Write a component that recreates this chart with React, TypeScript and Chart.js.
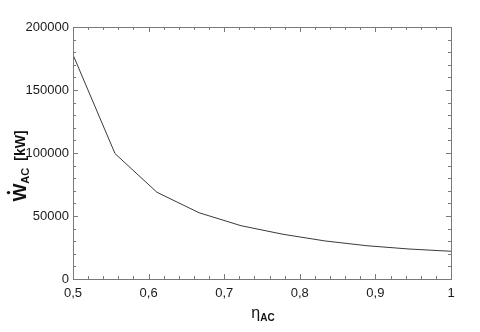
import React, { useEffect, useRef } from "react";
import { Chart, registerables } from "chart.js";

Chart.register(...registerables);

const etaValues = [0.5, 0.5556, 0.6111, 0.6667, 0.7222, 0.7778, 0.8333, 0.8889, 0.9444, 1.0];
const powerValues = [178000, 99500, 68800, 52600, 42300, 35500, 30200, 26400, 23800, 22000];
const xTickValues = [0.5, 0.6, 0.7, 0.8, 0.9, 1.0];
const yTickValues = [0, 50000, 100000, 150000, 200000];
const xMinorStep = 0.02;
const yMinorStep = 10000;

const FONT = "'Liberation Sans', Arial, Helvetica, sans-serif";

const frameAndLabels = {
  id: "frameAndLabels",
  afterDraw(chart: any) {
    const { ctx, chartArea } = chart;
    const { left, right, top, bottom } = chartArea;
    const xs = chart.scales.x;
    const ys = chart.scales.y;
    ctx.save();
    ctx.strokeStyle = "#7a7a7a";
    ctx.lineWidth = 1;
    ctx.strokeRect(Math.round(left) + 0.5, Math.round(top) + 0.5, Math.round(right - left), Math.round(bottom - top));
    ctx.beginPath();
    for (let i = 0; i <= Math.round((xs.max - xs.min) / xMinorStep); i++) {
      const v = xs.min + i * xMinorStep;
      const px = Math.round(xs.getPixelForValue(v)) + 0.5;
      const major = i % 5 === 0;
      const len = major ? 5 : 3;
      ctx.moveTo(px, bottom);
      ctx.lineTo(px, bottom - len);
      ctx.moveTo(px, top);
      ctx.lineTo(px, top + len);
    }
    for (let i = 0; i <= Math.round((ys.max - ys.min) / yMinorStep); i++) {
      const v = ys.min + i * yMinorStep;
      const py = Math.round(ys.getPixelForValue(v)) + 0.5;
      const major = i % 5 === 0;
      const len = major ? 5 : 3;
      ctx.moveTo(left, py);
      ctx.lineTo(left + len, py);
      ctx.moveTo(right, py);
      ctx.lineTo(right - len, py);
    }
    ctx.stroke();

    // x-axis title: eta_AC
    ctx.fillStyle = "#111";
    ctx.textBaseline = "alphabetic";
    ctx.textAlign = "left";
    ctx.font = `16px ${FONT}`;
    const etaW = ctx.measureText("η").width;
    const cx = (left + right) / 2 + 1;
    ctx.font = `bold 10px ${FONT}`;
    const acW = ctx.measureText("AC").width;
    const startX = cx - (etaW + acW) / 2;
    ctx.font = `16px ${FONT}`;
    ctx.fillText("η", startX, 318);
    ctx.font = `bold 10px ${FONT}`;
    ctx.fillText("AC", startX + etaW, 321);

    // y-axis title: W-dot_AC [kW]
    ctx.translate(26, 166);
    ctx.rotate(-Math.PI / 2);
    ctx.font = `bold 19px ${FONT}`;
    const wW = ctx.measureText("W").width;
    ctx.font = `bold 11px ${FONT}`;
    const subW = ctx.measureText("AC").width;
    ctx.font = `bold 14px ${FONT}`;
    const kwText = "[kW]";
    const kwW = ctx.measureText(kwText).width;
    const gap = 7;
    const total = wW + subW + gap + kwW;
    let x0 = -total / 2;
    ctx.font = `bold 19px ${FONT}`;
    ctx.fillText("W", x0, 0);
    ctx.beginPath();
    ctx.arc(x0 + wW / 2, -17.5, 1.7, 0, Math.PI * 2);
    ctx.fill();
    x0 += wW;
    ctx.font = `bold 11px ${FONT}`;
    ctx.fillText("AC", x0, 3);
    x0 += subW + gap;
    ctx.font = `bold 14px ${FONT}`;
    ctx.fillText(kwText, x0, -1);
    ctx.restore();
  },
};

function fmtX(v: number) {
  const r = Math.round(v * 10) / 10;
  return String(r).replace(".", ",");
}

export default function App() {
  const ref = useRef<HTMLCanvasElement | null>(null);
  useEffect(() => {
    if (!ref.current) return;
    const chart = new Chart(ref.current, {
      type: "line",
      data: {
        datasets: [
          {
            data: etaValues.map((e, i) => ({ x: e, y: powerValues[i] })),
            borderColor: "#3a3a3a",
            borderWidth: 1,
            pointRadius: 0,
            tension: 0,
            fill: false,
          },
        ],
      },
      options: {
        animation: false,
        responsive: false,
        events: [],
        layout: { padding: { top: 27, right: 29, left: 0, bottom: 0 } },
        plugins: { legend: { display: false }, tooltip: { enabled: false }, title: { display: false } },
        scales: {
          x: {
            type: "linear",
            min: 0.5,
            max: 1,
            afterFit: (s: any) => {
              s.height = 53;
            },
            afterBuildTicks: (s: any) => {
              s.ticks = xTickValues.map((v) => ({ value: v }));
            },
            grid: { display: false, drawTicks: false },
            border: { display: false },
            ticks: {
              padding: 7,
              maxRotation: 0,
              autoSkip: false,
              color: "#1a1a1a",
              font: { family: FONT, size: 13 },
              callback: (v: any) => fmtX(Number(v)),
            },
          },
          y: {
            type: "linear",
            min: 0,
            max: 200000,
            afterFit: (s: any) => {
              s.width = 73;
            },
            afterBuildTicks: (s: any) => {
              s.ticks = yTickValues.map((v) => ({ value: v }));
            },
            grid: { display: false, drawTicks: false },
            border: { display: false },
            ticks: {
              padding: 4,
              autoSkip: false,
              color: "#1a1a1a",
              font: { family: FONT, size: 13 },
              callback: (v: any) => String(v),
            },
          },
        },
      },
      plugins: [frameAndLabels],
    });
    return () => chart.destroy();
  }, []);
  return (
    <div style={{ position: "fixed", left: 0, top: 0, width: 480, height: 332, background: "#fff" }}>
      <canvas ref={ref} width={480} height={332} style={{ display: "block", width: 480, height: 332 }} />
    </div>
  );
}
